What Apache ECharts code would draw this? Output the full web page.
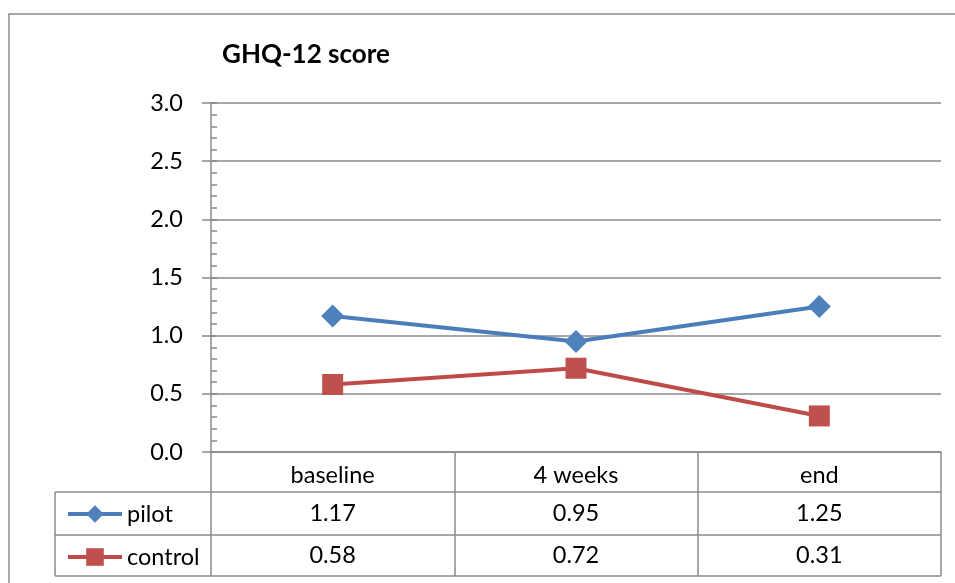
<!DOCTYPE html>
<html>
<head>
<meta charset="utf-8">
<script src="https://cdn.jsdelivr.net/npm/echarts@6/dist/echarts.min.js"></script>
<style>
html,body{margin:0;padding:0;background:#fff;}
#chart{width:955px;height:583px;}
</style>
</head>
<body>
<div id="chart"></div>
<script>
const categories = ['baseline', '4 weeks', 'end'];
const seriesNames = ['pilot', 'control'];
const pilotValues = [1.17, 0.95, 1.25];
const controlValues = [0.58, 0.72, 0.31];
const yMin = 0, yMax = 3, yInterval = 0.5;

const FONT = 'Lato, "Open Sans", sans-serif';
const FS = 23.5;
const GRID_COLOR = '#8a8a8a';
const BLUE = '#4F81BD', BLUE_LINE = '#4A7EBB';
const RED = '#C0504D', RED_LINE = '#BE4B48';

const chart = echarts.init(document.getElementById('chart'));

const L = 55, R = 941, rows = [492, 535, 576];
const tableLines = rows.map(y => ({
  type: 'line', silent: true,
  shape: { x1: L, y1: y, x2: R, y2: y },
  style: { stroke: GRID_COLOR, lineWidth: 1.5 }
}));
tableLines.push({
  type: 'line', silent: true,
  shape: { x1: L, y1: rows[0], x2: L, y2: rows[2] },
  style: { stroke: GRID_COLOR, lineWidth: 1.5 }
});

const option = {
  backgroundColor: '#fff',
  animation: false,
  title: {
    text: 'GHQ-12 score',
    left: 217, top: 37,
    textStyle: { fontFamily: FONT, fontWeight: 'bold', fontSize: 26, color: '#000' }
  },
  legend: {
    orient: 'vertical',
    left: 61, top: 497,
    itemWidth: 54, itemHeight: 22, itemGap: 19,
    data: seriesNames,
    lineStyle: { width: 4 },
    textStyle: { fontFamily: FONT, fontSize: FS, color: '#000', lineHeight: 22 }
  },
  grid: { left: 211, right: 14, top: 103, bottom: 131, containLabel: false },
  graphic: [
    {
      type: 'rect', silent: true,
      shape: { x: 9, y: 14, width: 1000, height: 700 },
      style: { fill: 'none', stroke: '#8a8a8a', lineWidth: 1.5 }
    }
  ].concat(tableLines),
  xAxis: [
    {
      type: 'category', data: categories, position: 'bottom', boundaryGap: true,
      axisLine: { show: true, lineStyle: { color: GRID_COLOR, width: 1.5 } },
      axisTick: { show: true, inside: false, length: 124, lineStyle: { color: GRID_COLOR, width: 1.5 } },
      axisLabel: { fontFamily: FONT, fontSize: FS, color: '#000', margin: 23, verticalAlign: 'middle' },
      splitLine: { show: false }
    },
    {
      type: 'category', data: categories, position: 'bottom', offset: 40, boundaryGap: true,
      axisLine: { show: false }, axisTick: { show: false }, splitLine: { show: false },
      axisLabel: {
        fontFamily: FONT, fontSize: FS, color: '#000', margin: 21.5, verticalAlign: 'middle',
        formatter: (v, i) => pilotValues[i].toFixed(2)
      }
    },
    {
      type: 'category', data: categories, position: 'bottom', offset: 83, boundaryGap: true,
      axisLine: { show: false }, axisTick: { show: false }, splitLine: { show: false },
      axisLabel: {
        fontFamily: FONT, fontSize: FS, color: '#000', margin: 20.5, verticalAlign: 'middle',
        formatter: (v, i) => controlValues[i].toFixed(2)
      }
    }
  ],
  yAxis: [
    {
      type: 'value', min: yMin, max: yMax, interval: yInterval, position: 'left',
      axisLine: { show: true, lineStyle: { color: GRID_COLOR, width: 1.5 } },
      axisTick: { show: true, inside: false, length: 9, lineStyle: { color: GRID_COLOR, width: 1.5 } },
      axisLabel: { fontFamily: FONT, fontSize: FS, color: '#000', margin: 28, formatter: v => v.toFixed(1) },
      splitLine: { show: true, lineStyle: { color: GRID_COLOR, width: 1.5 } }
    },
    {
      type: 'value', min: yMin, max: yMax, interval: 0.1, position: 'left',
      axisLine: { show: false },
      axisTick: { show: true, inside: true, length: 6, lineStyle: { color: GRID_COLOR, width: 1.5 } },
      axisLabel: { show: false },
      splitLine: { show: false }
    }
  ],
  series: [
    {
      name: seriesNames[0], type: 'line', data: pilotValues,
      xAxisIndex: 0, yAxisIndex: 0,
      symbol: 'diamond', symbolSize: 23,
      lineStyle: { color: BLUE_LINE, width: 4 },
      itemStyle: { color: BLUE, borderWidth: 0 }
    },
    {
      name: seriesNames[1], type: 'line', data: controlValues,
      xAxisIndex: 0, yAxisIndex: 0,
      symbol: 'rect', symbolSize: 21,
      lineStyle: { color: RED_LINE, width: 4 },
      itemStyle: { color: RED, borderWidth: 0 }
    }
  ]
};
chart.setOption(option);
</script>
</body>
</html>
